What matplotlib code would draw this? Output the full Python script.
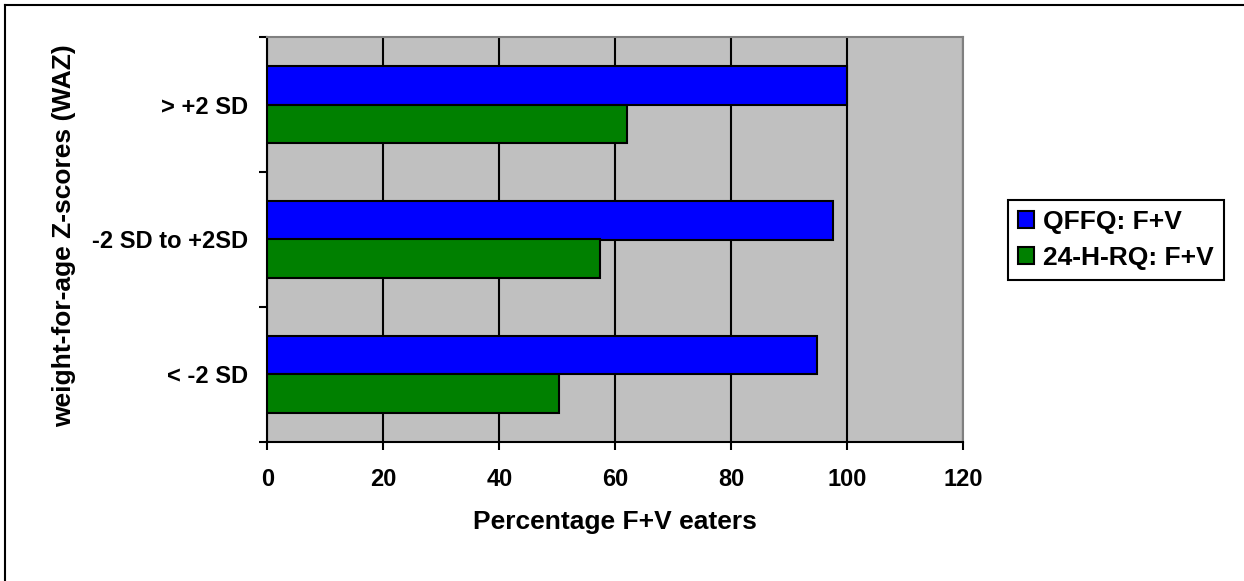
import matplotlib
matplotlib.use("Agg")
import matplotlib.pyplot as plt
import numpy as np
from matplotlib.lines import Line2D

plt.rcParams["font.family"] = ["Liberation Sans", "DejaVu Sans"]
plt.rcParams["font.weight"] = "bold"

# groups from bottom to top, as drawn
groups = ["< -2 SD", "-2 SD to +2SD", "> +2 SD"]
qffq = [94.7, 97.5, 100.0]
rq24 = [50.3, 57.3, 62.1]
series_names = ["QFFQ: F+V", "24-H-RQ: F+V"]
x_ticks = [0, 20, 40, 60, 80, 100, 120]

W, H = 1244, 581
fig = plt.figure(figsize=(W / 100, H / 100), dpi=100)
ax = fig.add_axes([267.3 / W, 1 - 441.7 / H, 696 / W, 404.4 / H])
ax.set_facecolor("#C0C0C0")

y = np.arange(len(groups))
h = 0.285
ax.barh(y + h / 2, qffq, height=h, color="#0000FF", edgecolor="black",
        linewidth=1.5, label=series_names[0], zorder=3)
ax.barh(y - h / 2, rq24, height=h, color="#008000", edgecolor="black",
        linewidth=1.5, label=series_names[1], zorder=3)

ax.set_xlim(0, 120)
ax.set_ylim(-0.5, len(groups) - 0.5)
ax.set_xticks(x_ticks)
ax.set_xticklabels([str(t) for t in x_ticks], fontsize=17, fontweight="bold")
ax.xaxis.grid(True, color="black", linewidth=1.5, zorder=1)
ax.set_axisbelow(True)

# ticks at group boundaries, labels at group centres
ax.set_yticks(np.arange(len(groups) + 1) - 0.5)
ax.set_yticklabels([])
ax.set_yticks(y, minor=True)
ax.set_yticklabels(groups, minor=True, fontsize=17, fontweight="bold")
ax.tick_params(axis="y", which="minor", length=0, pad=14)
ax.tick_params(axis="y", which="major", length=6, width=1.5, direction="out")
ax.tick_params(axis="x", length=6, width=1.5, direction="out", pad=13)

for side in ["left", "bottom"]:
    ax.spines[side].set_color("black")
    ax.spines[side].set_linewidth(1.5)
for side in ["top", "right"]:
    ax.spines[side].set_color("#808080")
    ax.spines[side].set_linewidth(1.5)

fig.text(615.3 / W, 1 - 522 / H, "Percentage F+V eaters", ha="center",
         va="center", fontsize=19, fontweight="bold")
fig.text(64 / W, 1 - 236 / H, "weight-for-age Z-scores (WAZ)", ha="center",
         va="center", rotation=90, fontsize=19, fontweight="bold")

leg = ax.legend(loc="upper left", bbox_to_anchor=(1008.3 / W, 1 - 200 / H),
                bbox_transform=fig.transFigure, borderaxespad=0,
                prop={"weight": "bold", "size": 19},
                fancybox=False, framealpha=1, edgecolor="black",
                handlelength=0.6, handleheight=0.6, handletextpad=0.35,
                borderpad=0.38, labelspacing=0.45)
leg.get_frame().set_linewidth(1.5)

# outer frame (top and left edges only)
fig.add_artist(Line2D([5 / W, 5 / W], [0, 1 - 5 / H], transform=fig.transFigure,
                      color="black", linewidth=1.5))
fig.add_artist(Line2D([5 / W, 1], [1 - 5 / H, 1 - 5 / H], transform=fig.transFigure,
                      color="black", linewidth=1.5))

fig.savefig("out.png", dpi=100)
